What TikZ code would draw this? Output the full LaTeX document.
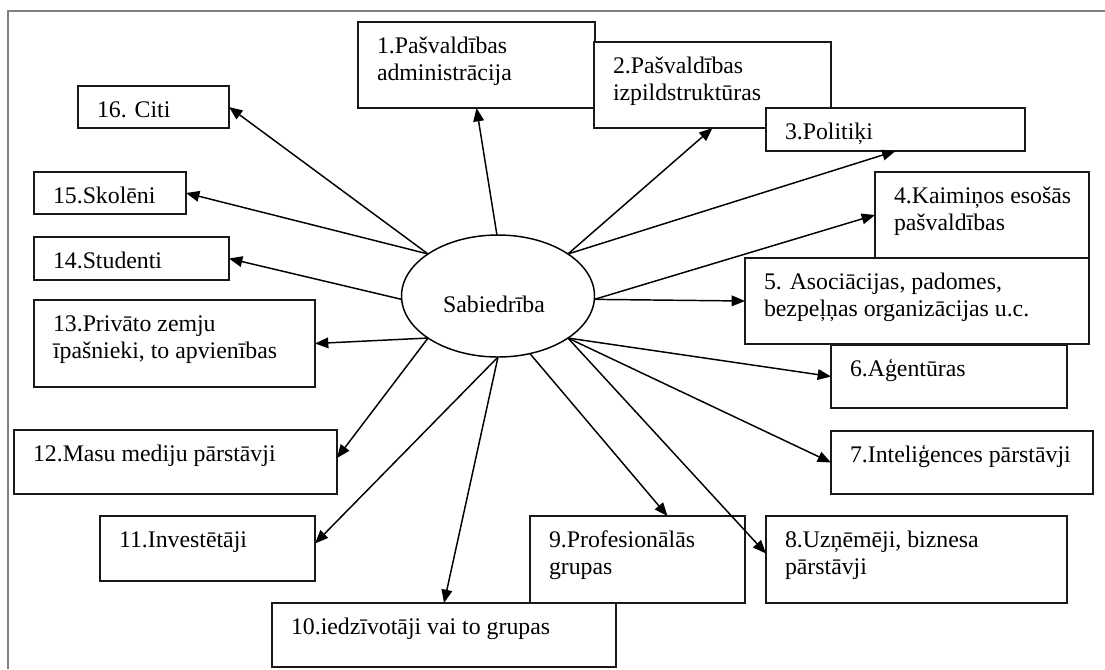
\documentclass[tikz,border=0pt]{standalone}
\usepackage{fontspec}
\setmainfont{Liberation Serif}
\usetikzlibrary{shapes.geometric,arrows.meta,fit,calc}
\newcommand\mkbox[6]{%
  \node[bx, fit={(#2,#3)(#4,#5)}] (#1) {};
  \node[lbl] (#1t) at ({#2+19},{#3+31}) {#6};}
\newcommand\mkboxtwo[7]{%
  \node[bx, fit={(#2,#3)(#4,#5)}] (#1) {};
  \node[lbl] (#1t) at ({#2+19},{#3+58}) {#6\\#7};}
\begin{document}
\begin{tikzpicture}[x=0.75pt,y=-0.75pt,
  bx/.style={rectangle, draw=black!90, line width=1.3pt, fill=white, inner sep=0pt, outer sep=0pt},
  lbl/.style={anchor=base west, inner sep=0pt, outer sep=0pt, align=left, text=black, font=\fontsize{17.85}{20.25}\selectfont},
  arr/.style={line width=1.1pt, -{Triangle[length=10pt,width=8pt]}},
  framel/.style={draw=black!50, line width=1.5pt}]
\useasboundingbox (0,0) rectangle (1105,669);
% outer frame
\coordinate (fr1) at (1105,11);
\coordinate (fr2) at (8,11);
\coordinate (fr3) at (8,669);
\draw[framel] (fr1) -- (fr2) -- (fr3);
% boxes
\mkboxtwo{b1}{358}{22}{595}{108}{1.Pašvaldības}{administrācija}
\mkboxtwo{b2}{594}{42}{831}{128}{2.Pašvaldības}{izpildstruktūras}
\mkbox{b3}{766}{108}{1025}{151}{3.Politiķi}
\mkboxtwo{b4}{875}{172}{1089}{258}{4.Kaimiņos esošās}{pašvaldības}
\mkboxtwo{b5}{745}{258}{1089}{344}{5. Asociācijas, padomes,}{bezpeļņas organizācijas u.c.}
\mkbox{b6}{831}{345}{1067}{408}{6.Aģentūras}
\mkbox{b7}{831}{431}{1093}{494}{7.Inteliģences pārstāvji}
\mkboxtwo{b8}{766}{516}{1067}{603}{8.Uzņēmēji, biznesa}{pārstāvji}
\mkboxtwo{b9}{530}{516}{745}{603}{9.Profesionālās}{grupas}
\mkbox{b10}{272}{603}{616}{667}{10.iedzīvotāji vai to grupas}
\mkbox{b11}{100}{516}{315}{581}{11.Investētāji}
\mkbox{b12}{14}{430}{337}{494}{12.Masu mediju pārstāvji}
\mkboxtwo{b13}{34}{300}{315}{387}{13.Privāto zemju}{īpašnieki, to apvienības}
\mkbox{b14}{34}{237}{229}{280}{14.Studenti}
\mkbox{b15}{34}{172}{186}{214}{15.Skolēni}
\mkbox{b16}{78}{86}{229}{128}{16. Citi}
% centre
\node[draw, ellipse, line width=1.1pt, fill=white, minimum width=144.75pt, minimum height=91.5pt, inner sep=0pt, outer sep=0pt] (soc) at (498,296) {};
\node[lbl, anchor=base] (socl) at (494,312) {Sabiedrība};
% connectors
\draw[arr] (soc.91) -- (b1.south);
\draw[arr] (soc.31) -- (b2.south);
\draw[arr] (soc.31) -- (b3.south);
\draw[arr] (soc.358) -- (b4.west);
\draw[arr] (soc.358) -- (b5.west);
\draw[arr] (soc.329) -- (b6.west);
\draw[arr] (soc.329) -- (b7.west);
\draw[arr] (soc.329) -- ($(b8.west)+(0,-6)$);
\draw[arr] (soc.299) -- ($(b9.north)+(30,0)$);
\draw[arr] (soc.270) -- (b10.north);
\draw[arr] (soc.270) -- ($(b11.east)+(0,-5)$);
\draw[arr] (soc.211) -- ($(b12.east)+(0,-4)$);
\draw[arr] (soc.211) -- (b13.east);
\draw[arr] (soc.182) -- (b14.east);
\draw[arr] (soc.149) -- (b15.east);
\draw[arr] (soc.149) -- (b16.east);
\end{tikzpicture}
\end{document}
